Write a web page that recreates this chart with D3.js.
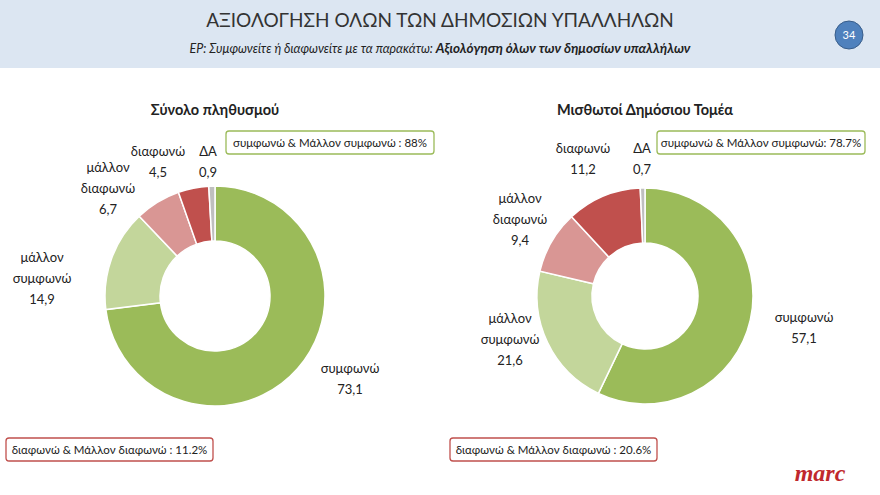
<!DOCTYPE html>
<html><head><meta charset="utf-8">
<script src="https://cdn.jsdelivr.net/npm/d3@7"></script>
<style>body{margin:0;background:#fff}text{font-family:Lato,"Open Sans",sans-serif}</style>
</head><body><svg id="c" width="880" height="495"></svg>
<script>
const categories = ["συμφωνώ","μάλλον συμφωνώ","μάλλον διαφωνώ","διαφωνώ","ΔΑ"];
const totalValues = [73.1,14.9,6.7,4.5,0.9];
const publicValues = [57.1,21.6,9.4,11.2,0.7];
const chartTitles = ["Σύνολο πληθυσμού","Μισθωτοί Δημόσιου Τομέα"];
const agreeTexts = ["συμφωνώ & Μάλλον συμφωνώ : 88%","συμφωνώ & Μάλλον συμφωνώ: 78.7%"];
const disagreeTexts = ["διαφωνώ & Μάλλον διαφωνώ : 11.2%","διαφωνώ & Μάλλον διαφωνώ : 20.6%"];
const colors = ["#9bbb59","#c3d69b","#d99694","#c0504d","#bfbfbf"];
const labelLayout = [
 [[350,373],[42,262],[108,172],[158,156],[208,156]],
 [[804,322],[510,323],[520,203],[583,153],[642,153]]
];
const svg = d3.select("#c");
svg.append("rect").attr("width",880).attr("height",68).attr("fill","#dce6f2");
svg.append("text").attr("x",440).attr("y",27).attr("text-anchor","middle").attr("font-size",19).attr("fill","#333")
 .text("ΑΞΙΟΛΟΓΗΣΗ ΟΛΩΝ ΤΩΝ ΔΗΜΟΣΙΩΝ ΥΠΑΛΛΗΛΩΝ");
const st = svg.append("text").attr("x",440).attr("y",53).attr("text-anchor","middle").attr("font-size",12.5).attr("font-style","italic").attr("fill","#222");
st.append("tspan").text("ΕΡ: Συμφωνείτε ή διαφωνείτε με τα παρακάτω: ");
st.append("tspan").attr("font-weight","bold").attr("font-size",13.5).text("Αξιολόγηση όλων των δημοσίων υπαλλήλων");
svg.append("circle").attr("cx",849).attr("cy",35).attr("r",14).attr("fill","#4f81bd").attr("stroke","#385d8a");
svg.append("text").attr("x",849).attr("y",39).attr("text-anchor","middle").attr("font-size",11).attr("fill","#fff").text("34");

const datasets=[totalValues,publicValues];
const centers=[[215,296],[645,296]];
const radii=[[110,55],[108,53]];
const pie=d3.pie().sort(null).value(d=>d);
datasets.forEach((vals,i)=>{
  const g=svg.append("g").attr("transform",`translate(${centers[i]})`);
  const arc=d3.arc().outerRadius(radii[i][0]).innerRadius(radii[i][1]);
  g.selectAll("path").data(pie(vals)).join("path").attr("d",arc)
   .attr("fill",(d,j)=>colors[j]).attr("stroke","#fff").attr("stroke-width",1.5);
  svg.append("text").attr("x",centers[i][0]).attr("y",115).attr("text-anchor","middle")
   .attr("font-size",14.5).attr("font-weight","bold").attr("fill","#222").text(chartTitles[i]);
  vals.forEach((v,j)=>{
    const [x,y]=labelLayout[i][j];
    const lines=categories[j].split(" ").concat([String(v).replace(".",",")]);
    const t=svg.append("text").attr("text-anchor","middle").attr("font-size",13).attr("fill","#222");
    lines.forEach((l,k)=>t.append("tspan").attr("x",x).attr("y",y+k*21).text(l));
  });
  const bx=[226,657][i];
  svg.append("rect").attr("x",bx).attr("y",131).attr("width",208).attr("height",23).attr("rx",3)
   .attr("fill","#fff").attr("stroke","#9bbb59").attr("stroke-width",1.3);
  svg.append("text").attr("x",bx+104).attr("y",147).attr("text-anchor","middle").attr("font-size",11.5).attr("fill","#222").text(agreeTexts[i]);
  const rx=[6,450][i];
  svg.append("rect").attr("x",rx).attr("y",438).attr("width",207).attr("height",23).attr("rx",3)
   .attr("fill","#fff").attr("stroke","#c0504d").attr("stroke-width",1.3);
  svg.append("text").attr("x",rx+103.5).attr("y",454).attr("text-anchor","middle").attr("font-size",11.5).attr("fill","#222").text(disagreeTexts[i]);
});
svg.append("text").attr("x",820).attr("y",481).attr("text-anchor","middle")
 .style("font-family","'Liberation Serif',serif").style("font-size","24px").style("font-weight","bold").style("font-style","italic")
 .attr("fill","#c0282d").text("marc");
</script></body></html>
